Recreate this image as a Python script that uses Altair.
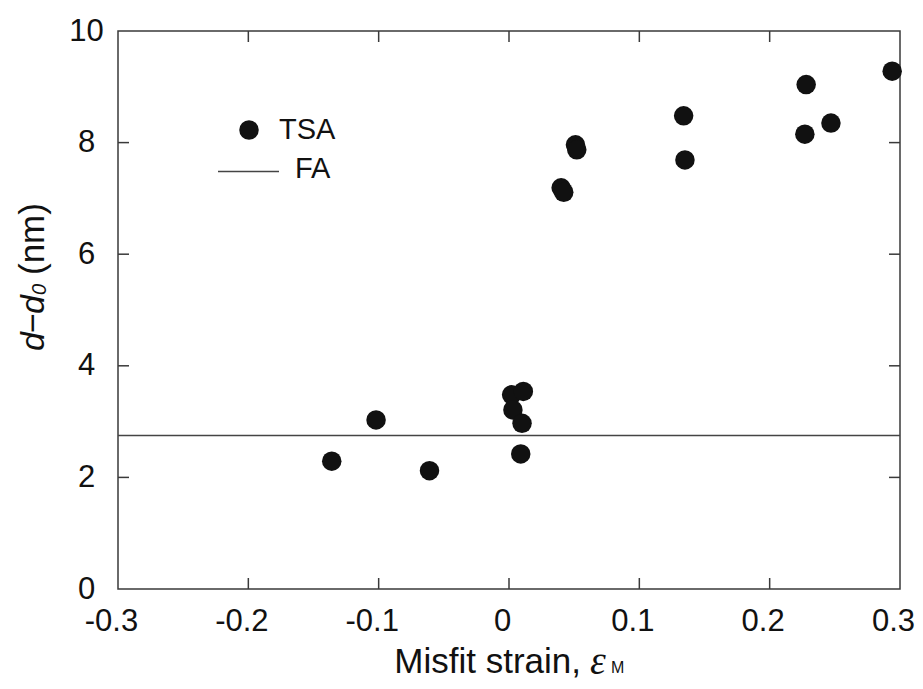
import altair as alt
import pandas as pd

# ---- data ----
X_TSA = [-0.136, -0.102, -0.061, 0.002, 0.011, 0.003, 0.010, 0.009,
         0.040, 0.042, 0.051, 0.052, 0.134, 0.135, 0.228, 0.227, 0.247, 0.294]
Y_TSA = [2.29, 3.03, 2.12, 3.48, 3.54, 3.21, 2.97, 2.42,
         7.19, 7.11, 7.96, 7.87, 8.48, 7.69, 9.04, 8.15, 8.35, 9.28]
FA_LEVEL = [2.75]
X_TICKS = [-0.2, -0.1, 0.0, 0.1, 0.2]
Y_TICKS = [2, 4, 6, 8]
X_LABELS = [-0.3, -0.2, -0.1, 0, 0.1, 0.2, 0.3]
Y_LABELS = [0, 2, 4, 6, 8, 10]
LEGEND_TEXT = ["TSA", "FA"]

W, H = 782, 558
FONT = "Liberation Sans"
SERIF = "Liberation Serif"
INK = "#111111"
FRAME = "#3a3a3a"
TICK = 11

xs = alt.Scale(domain=[-0.3, 0.3], nice=False, zero=False)
ys = alt.Scale(domain=[0, 10], nice=False, zero=False)

x_axis = alt.Axis(
    values=X_LABELS,
    labelExpr="datum.value == 0 ? '\u00a0\u00a00' : (datum.value < 0 ? '-' + format(-datum.value, '.1f') : format(datum.value, '.1f'))",
    ticks=False, tickSize=0, domain=False, grid=False, title=None,
    labelFont=FONT, labelFontSize=31, labelColor=INK, labelPadding=17,
    labelOffset=-7, labelFlush=False, labelOverlap=False,
)
y_axis = alt.Axis(
    values=Y_LABELS, format="d",
    ticks=False, tickSize=0, domain=False, grid=False, title=None,
    labelFont=FONT, labelFontSize=31, labelColor=INK, labelPadding=32,
    labelAlign="center", labelFlush=False, labelOverlap=False,
)

pts = pd.DataFrame({"strain": X_TSA, "d": Y_TSA})
fa = pd.DataFrame({"fa": FA_LEVEL})
xt = pd.DataFrame({"v": X_TICKS})
yt = pd.DataFrame({"v": Y_TICKS})

fa_line = alt.Chart(fa).mark_rule(color="#444444", strokeWidth=1.5).encode(
    y=alt.Y("fa:Q", scale=ys, axis=y_axis)
)

tick_bottom = alt.Chart(xt).mark_rule(color=FRAME, strokeWidth=1.5).encode(
    x=alt.X("v:Q", scale=xs, axis=x_axis), y=alt.value(H), y2=alt.value(H - TICK)
)
tick_top = alt.Chart(xt).mark_rule(color=FRAME, strokeWidth=1.5).encode(
    x=alt.X("v:Q", scale=xs, axis=x_axis), y=alt.value(0), y2=alt.value(TICK)
)
tick_left = alt.Chart(yt).mark_rule(color=FRAME, strokeWidth=1.5).encode(
    y=alt.Y("v:Q", scale=ys, axis=y_axis), x=alt.value(0), x2=alt.value(TICK)
)
tick_right = alt.Chart(yt).mark_rule(color=FRAME, strokeWidth=1.5).encode(
    y=alt.Y("v:Q", scale=ys, axis=y_axis), x=alt.value(W), x2=alt.value(W - TICK)
)

points = alt.Chart(pts).mark_circle(size=380, color=INK, opacity=1).encode(
    x=alt.X("strain:Q", scale=xs, axis=x_axis),
    y=alt.Y("d:Q", scale=ys, axis=y_axis),
)

# ---- legend ----
leg_pt = alt.Chart(pd.DataFrame({"t": [LEGEND_TEXT[0]]})).mark_circle(
    size=380, color=INK, opacity=1
).encode(x=alt.value(131), y=alt.value(99))
leg_line = alt.Chart(pd.DataFrame({"t": [LEGEND_TEXT[1]]})).mark_rule(
    color="#444444", strokeWidth=1.5
).encode(x=alt.value(100), x2=alt.value(161), y=alt.value(140.5))
leg_tsa = alt.Chart(pd.DataFrame({"t": [LEGEND_TEXT[0]]})).mark_text(
    font=FONT, fontSize=29, color=INK, align="left", baseline="alphabetic"
).encode(text="t:N", x=alt.value(161), y=alt.value(108))
leg_fa = alt.Chart(pd.DataFrame({"t": [LEGEND_TEXT[1]]})).mark_text(
    font=FONT, fontSize=29, color=INK, align="left", baseline="alphabetic"
).encode(text="t:N", x=alt.value(177), y=alt.value(147))

# ---- x title: Misfit strain, εM ----
def txt(s, x, y, size, font=FONT, style="normal", align="left", angle=0):
    return alt.Chart(pd.DataFrame({"t": [s]})).mark_text(
        font=font, fontSize=size, fontStyle=style, color=INK,
        align=align, baseline="alphabetic", angle=angle,
    ).encode(text="t:N", x=alt.value(x), y=alt.value(y))

xt1 = txt("Misfit strain,", 463, 642, 35, align="right")
xt2 = txt("\u03b5", 472, 643, 40, font=SERIF, style="italic")
xt3 = txt("M", 493, 642, 16)

# ---- y title: d−d0 (nm), rotated ----
YB = -74
yt1 = txt("d", YB, 320, 34, style="italic", angle=270)
yt2 = txt("\u2212", YB, 302, 34, angle=270)
yt3 = txt("d", YB, 283, 34, style="italic", angle=270)
yt4 = txt("0", YB + 2, 264, 20, style="italic", angle=270)
yt5 = txt("(nm)", YB, 244, 35, angle=270)

chart = alt.layer(
    fa_line, tick_bottom, tick_top, tick_left, tick_right, points,
    leg_pt, leg_line, leg_tsa, leg_fa,
    xt1, xt2, xt3, yt1, yt2, yt3, yt4, yt5,
).properties(
    width=W, height=H,
    autosize=alt.AutoSizeParams(type="none"),
    padding={"left": 118, "top": 31, "right": 23, "bottom": 100},
    background="white",
).configure_view(stroke=FRAME, strokeWidth=1.5)

chart.save("out.html", embed_options={"renderer": "svg", "actions": False})
